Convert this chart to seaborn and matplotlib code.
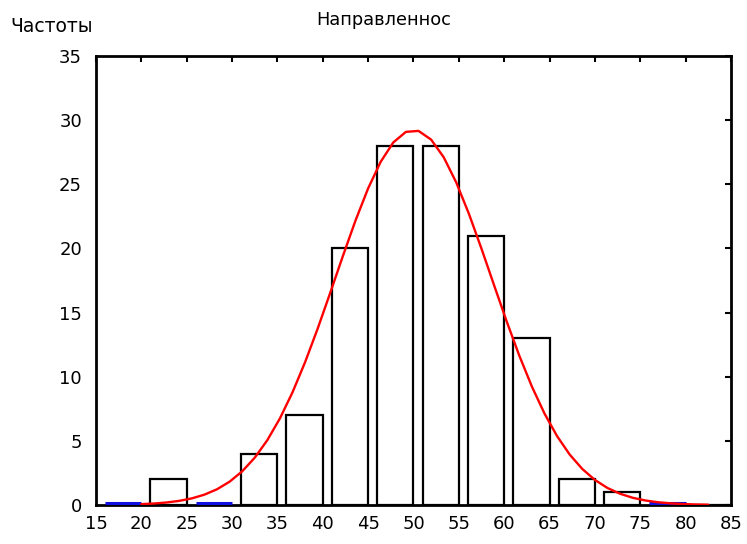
import numpy as np
import pandas as pd
import matplotlib
matplotlib.use("Agg")
import matplotlib.pyplot as plt
import seaborn as sns

# Frequency table: bin starts (width 5) and counts
bin_starts = [15, 20, 25, 30, 35, 40, 45, 50, 55, 60, 65, 70, 75, 80]
counts = [0, 2, 0, 4, 7, 20, 28, 28, 21, 13, 2, 1, 0, 0]
bin_width = 5

# Fitted normal curve parameters
fit_mean = 50.0
fit_sd = 8.6
n_total = sum(counts)

x_ticks = list(range(15, 90, 5))
y_ticks = list(range(0, 40, 5))

sns.set_theme(style="white")
plt.rcParams["font.family"] = ["DejaVu Sans"]
plt.rcParams["text.color"] = "black"
plt.rcParams["xtick.color"] = "black"
plt.rcParams["ytick.color"] = "black"

fig = plt.figure(figsize=(7.47, 5.44), dpi=100)
ax = fig.add_axes([0.1285, 0.0717, 0.850, 0.8253])

df = pd.DataFrame({
    "center": [s + 3 for s in bin_starts],
    "count": counts,
})
edges = [s + 0.5 for s in bin_starts] + [bin_starts[-1] + bin_width + 0.5]

sns.histplot(data=df, x="center", weights="count", bins=edges, shrink=0.8,
             stat="count", fill=True, color="white", edgecolor="black",
             linewidth=1.6, alpha=1, ax=ax, zorder=2)

# Empty classes marked with a blue line on the baseline
for s, c in zip(bin_starts, counts):
    if c == 0 and s < 80:
        ax.hlines(0.18, s + 1, s + bin_width, color="#1010e0", lw=2.2, zorder=3)

# Expected frequencies under the normal fit
xc = np.linspace(20, 82.5, 46)
yc = n_total * bin_width * np.exp(-0.5 * ((xc - fit_mean) / fit_sd) ** 2) / (fit_sd * np.sqrt(2 * np.pi))
sns.lineplot(x=xc, y=yc, color="red", lw=1.7, ax=ax, zorder=4)

ax.set_xlim(15, 85)
ax.set_ylim(0, 35)
ax.set_xticks(x_ticks)
ax.set_yticks(y_ticks)
ax.set_xlabel("")
ax.set_ylabel("")
ax.tick_params(axis="both", which="both", direction="in", length=4, width=1.5,
               color="black", labelcolor="black", labelsize=13, top=True, right=True,
               labeltop=False, labelright=False)
ax.tick_params(axis="y", pad=10)
ax.tick_params(axis="x", pad=7)
for sp in ax.spines.values():
    sp.set_color("black")
    sp.set_linewidth(2)
    sp.set_visible(True)

fig.text(384 / 747, 1 - 20 / 544, "Направленнос", ha="center", va="center",
         fontsize=12.8, color="black")
fig.text(52 / 747, 1 - 26 / 544, "Частоты", ha="center", va="center",
         fontsize=13.5, color="black")

fig.savefig("out.png", dpi=100, facecolor="white")
